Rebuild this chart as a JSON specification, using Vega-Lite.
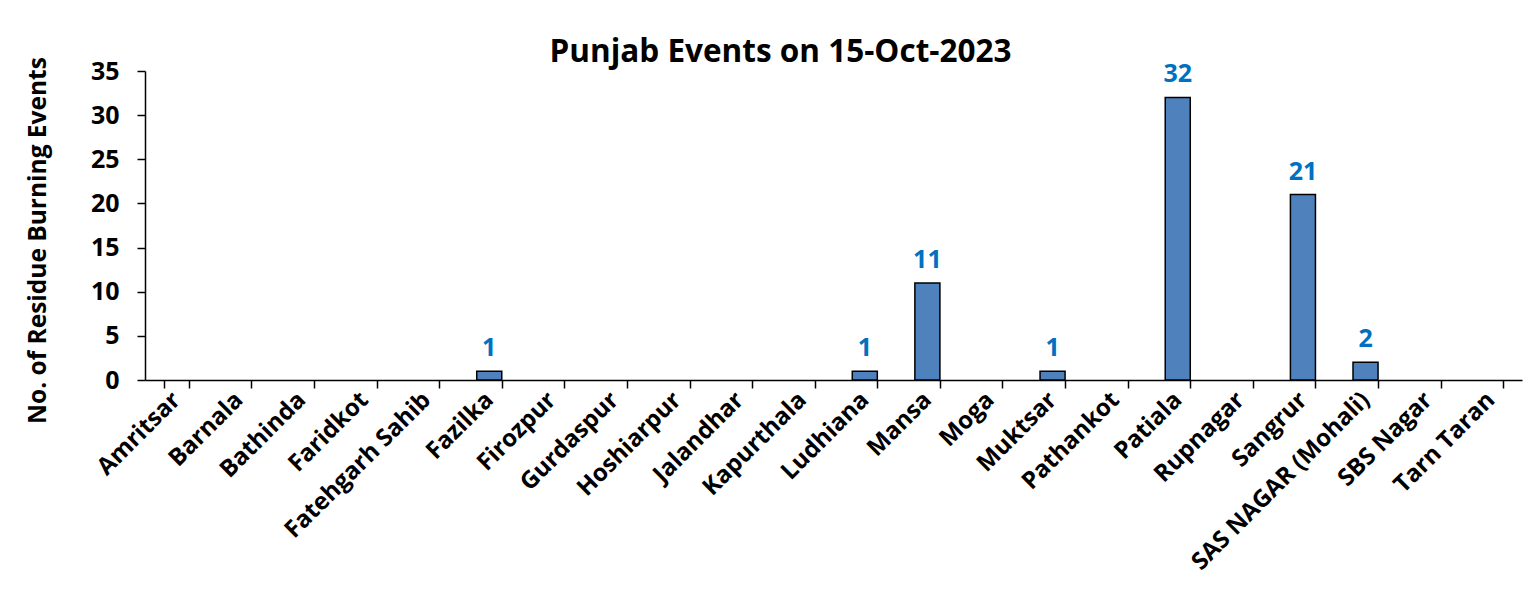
{
  "$schema": "https://vega.github.io/schema/vega-lite/v6.json",
  "autosize": {"type": "none"},
  "width": 1377,
  "height": 309,
  "padding": {"left": 145, "top": 71, "right": 6, "bottom": 236},
  "background": "white",
  "title": {
    "text": "Punjab Events on 15-Oct-2023",
    "font": "Open Sans",
    "fontSize": 31.5,
    "fontWeight": "bold",
    "color": "#000000",
    "anchor": "middle",
    "frame": "group",
    "dx": -53,
    "dy": 26,
    "offset": 14
  },
  "data": {
    "values": [
      {"district": "Amritsar", "events": 0},
      {"district": "Barnala", "events": 0},
      {"district": "Bathinda", "events": 0},
      {"district": "Faridkot", "events": 0},
      {"district": "Fatehgarh Sahib", "events": 0},
      {"district": "Fazilka", "events": 1},
      {"district": "Firozpur", "events": 0},
      {"district": "Gurdaspur", "events": 0},
      {"district": "Hoshiarpur", "events": 0},
      {"district": "Jalandhar", "events": 0},
      {"district": "Kapurthala", "events": 0},
      {"district": "Ludhiana", "events": 1},
      {"district": "Mansa", "events": 11},
      {"district": "Moga", "events": 0},
      {"district": "Muktsar", "events": 1},
      {"district": "Pathankot", "events": 0},
      {"district": "Patiala", "events": 32},
      {"district": "Rupnagar", "events": 0},
      {"district": "Sangrur", "events": 21},
      {"district": "SAS NAGAR (Mohali)", "events": 2},
      {"district": "SBS Nagar", "events": 0},
      {"district": "Tarn Taran", "events": 0}
    ]
  },
  "encoding": {
    "x": {
      "field": "district",
      "type": "nominal",
      "sort": null,
      "scale": {
        "domain": ["Amritsar", "Barnala", "Bathinda", "Faridkot", "Fatehgarh Sahib", "Fazilka", "Firozpur", "Gurdaspur", "Hoshiarpur", "Jalandhar", "Kapurthala", "Ludhiana", "Mansa", "Moga", "Muktsar", "Pathankot", "Patiala", "Rupnagar", "Sangrur", "SAS NAGAR (Mohali)", "SBS Nagar", "Tarn Taran"],
        "paddingInner": 0.6,
        "paddingOuter": 0.3
      },
      "axis": {
        "title": null,
        "labelAngle": -45,
        "labelAlign": "right",
        "labelBaseline": "middle",
        "labelFont": "Open Sans",
        "labelFontSize": 24,
        "labelFontWeight": "bold",
        "labelColor": "#000000",
        "labelPadding": 8,
        "labelLimit": 500,
        "labelOverlap": false,
        "tickBand": "extent",
        "tickSize": 8,
        "tickColor": "#000000",
        "tickWidth": 1.5,
        "domainColor": "#000000",
        "domainWidth": 1.5,
        "grid": false
      }
    },
    "y": {
      "field": "events",
      "type": "quantitative",
      "scale": {"domain": [0, 35], "nice": false},
      "axis": {
        "title": "No. of Residue Burning Events",
        "titleFont": "Open Sans",
        "titleFontSize": 24.5,
        "titleFontWeight": "bold",
        "titleColor": "#000000",
        "titlePadding": 40,
        "titleY": 169,
        "values": [0, 5, 10, 15, 20, 25, 30, 35],
        "labelFont": "Open Sans",
        "labelFontSize": 25,
        "labelFontWeight": "bold",
        "labelColor": "#000000",
        "labelPadding": 18,
        "tickSize": 8,
        "tickColor": "#000000",
        "tickWidth": 1.5,
        "domainColor": "#000000",
        "domainWidth": 1.5,
        "grid": false
      }
    }
  },
  "layer": [
    {
      "transform": [{"filter": "datum.events > 0"}],
      "mark": {"type": "bar", "color": "#4F81BD", "stroke": "#000000", "strokeWidth": 1.5}
    },
    {
      "transform": [{"filter": "datum.events > 0"}],
      "mark": {
        "type": "text",
        "font": "Open Sans",
        "fontSize": 25,
        "fontWeight": "bold",
        "color": "#0070C0",
        "baseline": "bottom",
        "dy": -10
      },
      "encoding": {"text": {"field": "events", "type": "quantitative"}}
    }
  ],
  "config": {"view": {"stroke": null}}
}
